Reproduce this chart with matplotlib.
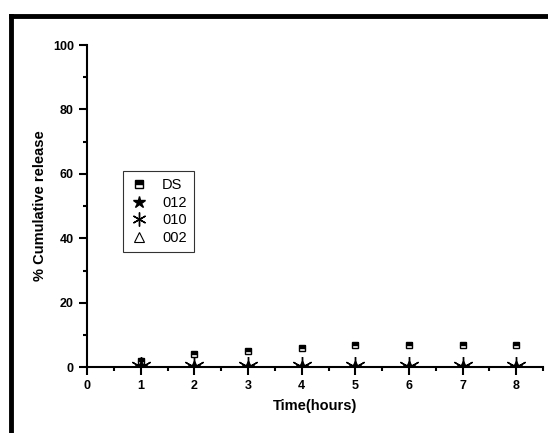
import numpy as np
import matplotlib
matplotlib.use("Agg")
import matplotlib.pyplot as plt
from matplotlib.lines import Line2D

# values
hours = [1, 2, 3, 4, 5, 6, 7, 8]
ds = [2, 4, 5, 6, 7, 7, 7, 7]
s012 = [0, 0, 0, 0, 0, 0, 0, 0]
s010 = [0, 0, 0, 0, 0, 0, 0, 0]
s002 = [0, 0, 0, 0, 0, 0, 0, 0]

plt.rcParams['font.family'] = ['Liberation Sans', 'DejaVu Sans']

fig = plt.figure(figsize=(5.48, 4.33), dpi=100)
ax = fig.add_axes([0.159, 0.152, 0.832, 0.744])

ax.plot(hours, ds, ls='none', marker='s', fillstyle='top', ms=5,
        mfc='black', mfcalt='white', mec='black', mew=1)
ax.plot(hours, s012, ls='none', marker='*', ms=9, color='black')
ax.plot(hours, s010, ls='none', marker=(6, 2, 0), ms=15, mew=1, color='black')
ax.plot(hours, s002, ls='none', marker='^', ms=8, mfc='none', mec='black',
        mew=1)

ax.set_xlim(0, 8.5)
ax.set_ylim(0, 100)
ax.set_xticks(range(0, 9))
ax.set_yticks(range(0, 101, 20))
ax.set_xticks(np.arange(0.5, 8.6, 1), minor=True)
ax.set_yticks(range(10, 100, 20), minor=True)
for s in ['top', 'right']:
    ax.spines[s].set_visible(False)
for s in ['left', 'bottom']:
    ax.spines[s].set_linewidth(1.5)
ax.tick_params(which='major', direction='out', length=6, width=1.5,
               labelsize=9)
ax.tick_params(which='minor', direction='out', length=3, width=1.5)
for t in ax.get_xticklabels() + ax.get_yticklabels():
    t.set_fontweight('bold')

ax.set_xlabel('Time(hours)', fontsize=10.5, fontweight='bold', labelpad=5)
ax.set_ylabel('% Cumulative release', fontsize=10.5, fontweight='bold',
              labelpad=4)

handles = [
    Line2D([], [], ls='none', marker='s', fillstyle='top', ms=6, mfc='black',
           mfcalt='white', mec='black', mew=1),
    Line2D([], [], ls='none', marker='*', ms=9, color='black'),
    Line2D([], [], ls='none', marker=(6, 2, 0), ms=10, mew=1, color='black'),
    Line2D([], [], ls='none', marker='^', ms=7, mfc='none', mec='black',
           mew=0.8),
]
leg = ax.legend(handles, ['DS', '012', '010', '002'], loc='upper left',
                bbox_to_anchor=(0.062, 0.632), fontsize=10.5,
                frameon=True, fancybox=False, edgecolor='black',
                handlelength=1.2, handletextpad=1.0, borderpad=0.5,
                labelspacing=0.25)
leg.get_frame().set_linewidth(0.8)

# thick frame partially visible at top and left
fig.add_artist(Line2D([0.0205, 1.0], [0.963, 0.963], transform=fig.transFigure,
                      color='black', lw=3.5))
fig.add_artist(Line2D([0.0205, 0.0205], [0.0, 0.963], transform=fig.transFigure,
                      color='black', lw=3.5))

fig.savefig('out.png', dpi=100)
